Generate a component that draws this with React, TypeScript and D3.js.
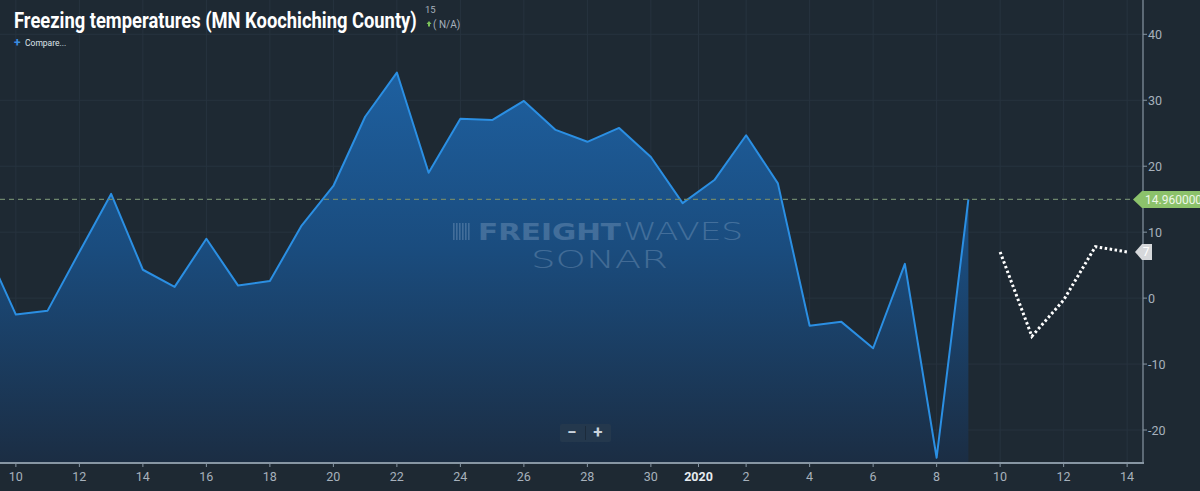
import * as d3 from 'd3';
import { useLayoutEffect, useRef, useState } from 'react';

// observed daily values (Dec 9 2019 .. Jan 9 2020)
const actualStart = new Date(2019, 11, 9);
const actualValues = [
  8.1, -2.5, -1.9, 7.0, 15.8, 4.3, 1.7, 9.0, 1.9, 2.6, 11.0, 17.0, 27.5, 34.2,
  19.0, 27.2, 27.0, 29.9, 25.5, 23.7, 25.8, 21.4, 14.4, 17.9, 24.7, 17.4,
  -4.2, -3.6, -7.6, 5.2, -24.2, 14.96,
];

// forecast (Jan 10 .. Jan 14 2020)
const forecastStart = new Date(2020, 0, 10);
const forecastValues = [7.0, -5.8, -0.3, 7.8, 7.0];

const lastValue = 14.96;
const lastLabel = '14.960000';
const forecastLast = 7;

const xTickDates = [
  new Date(2019, 11, 10), new Date(2019, 11, 12), new Date(2019, 11, 14),
  new Date(2019, 11, 16), new Date(2019, 11, 18), new Date(2019, 11, 20),
  new Date(2019, 11, 22), new Date(2019, 11, 24), new Date(2019, 11, 26),
  new Date(2019, 11, 28), new Date(2019, 11, 30), new Date(2019, 11, 31, 12),
  new Date(2020, 0, 2), new Date(2020, 0, 4), new Date(2020, 0, 6),
  new Date(2020, 0, 8), new Date(2020, 0, 10), new Date(2020, 0, 12),
  new Date(2020, 0, 14),
];
const xTickLabels = ['10', '12', '14', '16', '18', '20', '22', '24', '26', '28', '30', '2020', '2', '4', '6', '8', '10', '12', '14'];
const yTicks = [-20, -10, 0, 10, 20, 30, 40];

const W = 1200;
const H = 491;
const plotRight = 1143;
const plotBottom = 463;
const titleWidth = 403;

const dayMs = 86400000;
const toDate = (start: Date, i: number) => new Date(start.getTime() + i * dayMs);

export default function App() {
  const titleRef = useRef<SVGTextElement>(null);
  const [titleScale, setTitleScale] = useState(1);

  useLayoutEffect(() => {
    // squeeze the title to the condensed width seen in the original
    if (titleRef.current) {
      const len = titleRef.current.getComputedTextLength();
      if (len > 0) setTitleScale(titleWidth / len);
    }
  }, []);

  const x = d3.scaleTime()
    .domain([new Date(2019, 11, 9, 12), new Date(2020, 0, 14, 12)])
    .range([0, plotRight]);
  const y = d3.scaleLinear().domain([-25, 45.2]).range([plotBottom, 0]);

  const actual = actualValues.map((v, i) => ({ d: toDate(actualStart, i), v }));
  const forecast = forecastValues.map((v, i) => ({ d: toDate(forecastStart, i), v }));

  const line = d3.line<{ d: Date; v: number }>().x(p => x(p.d)).y(p => y(p.v));
  const area = d3.area<{ d: Date; v: number }>().x(p => x(p.d)).y0(plotBottom).y1(p => y(p.v));

  const axisColor = '#a7b1bc';
  const font = 'Roboto, "Noto Sans", sans-serif';
  const thin = '"DejaVu Sans ExtraLight", "DejaVu Sans", sans-serif';

  return (
    <div style={{ position: 'absolute', left: 0, top: 0 }}>
      <svg width={W} height={H} style={{ display: 'block' }}>
        <defs>
          <linearGradient id="fillGrad" x1="0" y1="0" x2="0" y2="1">
            <stop offset="0%" stopColor="#1e60a0" />
            <stop offset="45%" stopColor="#1a4c7e" />
            <stop offset="100%" stopColor="#1b2d43" />
          </linearGradient>
          <clipPath id="plotClip">
            <rect x={0} y={0} width={plotRight} height={plotBottom} />
          </clipPath>
        </defs>
        <rect width={W} height={H} fill="#1e2933" />

        {/* grid */}
        <g stroke="#27333f" strokeWidth={1}>
          {xTickDates.map((d, i) => (
            <line key={'gx' + i} x1={x(d)} x2={x(d)} y1={0} y2={plotBottom} />
          ))}
          {yTicks.map(t => (
            <line key={'gy' + t} x1={0} x2={plotRight} y1={y(t)} y2={y(t)} />
          ))}
        </g>

        <g clipPath="url(#plotClip)">
          <path d={area(actual) || ''} fill="url(#fillGrad)" />
          <path d={line(actual) || ''} fill="none" stroke="#2b8fe3" strokeWidth={2} strokeLinejoin="round" />
          <path d={line(forecast) || ''} fill="none" stroke="#ffffff" strokeWidth={3}
            strokeDasharray="2.5 2.5" />
        </g>

        {/* watermark */}
        <g opacity={0.22} fill="#cfe0f5">
          {[0, 3, 6, 9, 12, 15].map(o => (
            <rect key={o} x={453 + o} y={223} width={1.6} height={17} />
          ))}
          <text x={478} y={240} fontFamily='"DejaVu Sans", sans-serif' fontWeight={700} fontSize={23}
            textLength={143} lengthAdjust="spacingAndGlyphs">FREIGHT</text>
          <text x={623} y={240} fontFamily={thin} fontWeight={200} fontSize={24}
            textLength={120} lengthAdjust="spacingAndGlyphs">WAVES</text>
          <text x={531} y={268} fontFamily={thin} fontWeight={200} fontSize={24}
            textLength={137} lengthAdjust="spacingAndGlyphs">SONAR</text>
        </g>

        {/* last value dashed line */}
        <line x1={0} x2={1134} y1={y(lastValue)} y2={y(lastValue)} stroke="#6e866c" strokeWidth={1.3} strokeDasharray="5 4" />

        {/* axes */}
        <line x1={0} x2={plotRight + 1} y1={plotBottom} y2={plotBottom} stroke="#8796a3" strokeWidth={2} />
        <line x1={plotRight} x2={plotRight} y1={0} y2={plotBottom} stroke="#8796a3" strokeWidth={1.2} />
        {xTickDates.map((d, i) => (
          <g key={'xt' + i} transform={`translate(${x(d)},0)`}>
            <line y1={plotBottom} y2={plotBottom + 4} stroke="#8796a3" />
            <text y={481} textAnchor="middle" fontFamily={font} fontSize={12.5}
              fill={xTickLabels[i] === '2020' ? '#e6ebf0' : axisColor}
              fontWeight={xTickLabels[i] === '2020' ? 700 : 400}>{xTickLabels[i]}</text>
          </g>
        ))}
        {yTicks.map(t => (
          <g key={'yt' + t} transform={`translate(${plotRight},${y(t)})`}>
            <line x1={0} x2={4} stroke="#8796a3" />
            <text x={5} dy="0.36em" fontFamily={font} fontSize={12.5} fill={axisColor}>{t}</text>
          </g>
        ))}

        {/* last value tag */}
        <g transform={`translate(1133,${y(lastValue)})`}>
          <path d="M0,0 L9,-8.5 H70 V8.5 H9 Z" fill="#8cc26b" />
          <text x={12} dy="0.36em" fontFamily={font} fontSize={12} fill="#eef7e8">{lastLabel}</text>
        </g>
        <g transform={`translate(1135,${y(forecastLast)})`}>
          <path d="M0,0 L7,-8 H17 V8 H7 Z" fill="#d6d8db" />
          <text x={11} dy="0.36em" textAnchor="middle" fontFamily={font} fontSize={12} fill="#ffffff">{forecastLast}</text>
        </g>

        {/* zoom buttons */}
        <rect x={560} y={424} width={51} height={18} rx={2} fill="#24384d" />
        <line x1={585.5} x2={585.5} y1={426} y2={440} stroke="#1c2b3b" />
        <text x={572} y={438} textAnchor="middle" fontFamily={font} fontSize={17} fontWeight={700} fill="#c9d2dc">−</text>
        <text x={598} y={438} textAnchor="middle" fontFamily={font} fontSize={17} fontWeight={700} fill="#c9d2dc">+</text>

        {/* title */}
        <g transform={`translate(14,28) scale(${titleScale},1)`}>
          <text ref={titleRef} x={0} y={0} fontFamily={font} fontWeight={700} fontSize={22} fill="#ffffff">
            Freezing temperatures (MN Koochiching County)
          </text>
        </g>
        <text x={425} y={13} fontFamily={font} fontSize={9.5} fill="#a7b1bc">15</text>
        <path d="M426.5,24 L429,21 L431.5,24 H430 V26.5 H428 V24 Z" fill="#7cc35a" />
        <text x={433} y={28} fontFamily={font} fontSize={10} fill="#a7b1bc">( N/A)</text>
        <text x={14} y={47} fontFamily={font} fontSize={12} fontWeight={700} fill="#3a8de0">+</text>
        <text x={25} y={46} fontFamily={font} fontSize={8.5} fill="#dfe5ea">Compare...</text>
      </svg>
    </div>
  );
}
